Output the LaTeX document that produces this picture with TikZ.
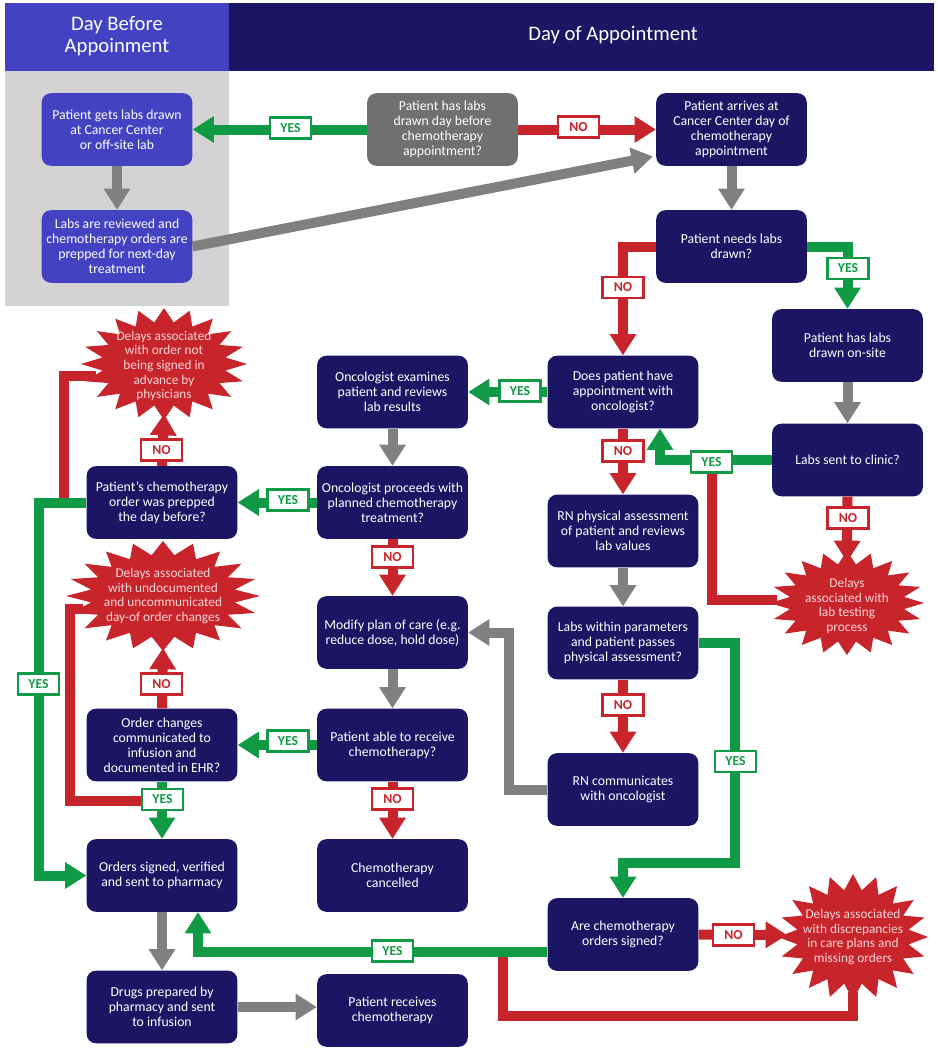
\documentclass[tikz,border=0pt]{standalone}
\usepackage{fontspec}
\setmainfont{Carlito}
\usetikzlibrary{arrows.meta,calc}

\definecolor{navy}{RGB}{28,21,100}
\definecolor{lblue}{RGB}{66,66,194}
\definecolor{panel}{RGB}{211,211,211}
\definecolor{gbox}{RGB}{112,112,112}
\definecolor{garrow}{RGB}{128,128,128}
\definecolor{cgreen}{RGB}{16,154,70}
\definecolor{cred}{RGB}{200,36,44}
\definecolor{stext}{RGB}{246,214,214}

\newcommand\starb[4]{\fill[cred] plot[samples at={0,9,...,351}, variable=\t] ({#1+#3*(1-0.25*mod(round(\t/9),2))*cos(\t)},{#2+#4*(1-0.25*mod(round(\t/9),2))*sin(\t)}) -- cycle;}

\tikzset{
 box/.style={draw=none, fill=navy, text=white, rounded corners=7pt, minimum width=113pt, minimum height=54.5pt, align=center, inner sep=0pt, font=\fontsize{10.3}{11.2}\selectfont},
 pbox/.style={box, fill=lblue},
 qbox/.style={box, fill=gbox},
 conn/.style={line width=7.5pt, -{Triangle[width=19pt,length=16pt]}},
 garr/.style={conn, draw=garrow},
 yarr/.style={conn, draw=cgreen},
 narr/.style={conn, draw=cred},
 nline/.style={line width=7.5pt, draw=cred},
 ylab/.style={draw=cgreen, line width=1.8pt, fill=white, text=cgreen, font=\fontsize{10.3}{10}\selectfont\bfseries, minimum width=31pt, minimum height=16pt, inner sep=0pt},
 nlab/.style={ylab, draw=cred, text=cred},
 startext/.style={text=stext, align=center, inner sep=0pt, font=\fontsize{10}{11}\selectfont},
 head/.style={text=white, align=center, font=\fontsize{15.5}{16}\selectfont},
}

\begin{document}
\begin{tikzpicture}[x=0.75pt,y=-0.75pt]
\useasboundingbox (0,0) rectangle (938,1050);
\fill[white] (0,0) rectangle (938,1050);
% header and panel
\fill[lblue] (5,3) rectangle (229,71);
\fill[navy] (229,3) rectangle (934,71);
\fill[panel] (5,71) rectangle (229,306);
\node[head] (h1) at (117,36) {Day Before\\Appoinment};
\node[head] (h2) at (613,35) {Day of Appointment};

% starbursts
\starb{164}{364}{83}{56}
\starb{163}{596}{97}{55}
\starb{847}{603}{77}{52}
\starb{853}{937}{75}{63}
\node[startext] (s1) at (164,366) {Delays associated\\with order not\\being signed in\\advance by\\physicians};
\node[startext] (s2) at (163,596) {Delays associated\\with undocumented\\and uncommunicated\\day-of order changes};
\node[startext] (s3) at (847,606) {Delays\\associated with\\lab testing\\process};
\node[startext] (s4) at (853,937) {Delays associated\\with discrepancies\\in care plans and\\missing orders};

% boxes
\node[pbox] (b1) at (117,129.5) {Patient gets labs drawn\\at Cancer Center\\or off-site lab};
\node[pbox] (b2) at (117,246.5) {Labs are reviewed and\\chemotherapy orders are\\prepped for next-day\\treatment};
\node[qbox] (q0) at (442.5,129.5) {Patient has labs\\drawn day before\\chemotherapy\\appointment?};
\node[box] (arr) at (731.5,129.5) {Patient arrives at\\Cancer Center day of\\chemotherapy\\appointment};
\node[box] (needs) at (731.5,246.5) {Patient needs labs\\drawn?};
\node[box] (onsite) at (847.5,345.5) {Patient has labs\\drawn on-site};
\node[box] (sent) at (847.5,460) {Labs sent to clinic?};
\node[box] (appt) at (623,392) {Does patient have\\appointment with\\oncologist?};
\node[box] (rnassess) at (623,531) {RN physical assessment\\of patient and reviews\\lab values};
\node[box] (within) at (623,643) {Labs within parameters\\and patient passes\\physical assessment?};
\node[box] (rncomm) at (623,789.5) {RN communicates\\with oncologist};
\node[box] (signed) at (623,934.5) {Are chemotherapy\\orders signed?};
\node[box] (exam) at (392.5,392) {Oncologist examines\\patient and reviews\\lab results};
\node[box] (proceeds) at (392.5,502.5) {Oncologist proceeds with\\planned chemotherapy\\treatment?};
\node[box] (modify) at (392.5,632.5) {Modify plan of care (e.g.\\reduce dose, hold dose)};
\node[box] (able) at (392.5,745) {Patient able to receive\\chemotherapy?};
\node[box] (cancelled) at (392.5,875.5) {Chemotherapy\\cancelled};
\node[box] (receives) at (392.5,1010.5) {Patient receives\\chemotherapy};
\node[box] (prepped) at (162,502.5) {Patient’s chemotherapy\\order was prepped\\the day before?};
\node[box] (ehr) at (162,745) {Order changes\\communicated to\\infusion and\\documented in EHR?};
\node[box] (orders) at (162,875.5) {Orders signed, verified\\and sent to pharmacy};
\node[box] (drugs) at (162,1007) {Drugs prepared by\\pharmacy and sent\\to infusion};

% red feedback lines (no arrowheads)
\draw[nline] ($(s3.center)+(-70,-6)$) -| ($(sent.west)+(-60,0)$);
\draw[nline] ($(s1.center)+(-68,10)$) -| ($(prepped.west)+(-22,0)$);
\draw[nline] ($(s2.center)+(-80,13)$) -| ($(ehr.south)+(-92,19)$) -- ($(ehr.south)+(-5,19)$);
\draw[nline] ($(signed.west)+(-44,17)$) |- ($(s4.center)+(0,79)$) -- ($(s4.center)+(0,55)$);

% connectors
\draw[yarr] (q0.west) -- (b1.east);
\draw[narr] (q0.east) -- (arr.west);
\draw[garr] (b1.south) -- (b2.north);
\draw[garr] (b2.east) -- ($(arr.west)+(-3,27)$);
\draw[garr] (arr.south) -- (needs.north);
\draw[narr] (needs.west) -| (appt.north);
\draw[yarr] (needs.east) -| (onsite.north);
\draw[garr] (onsite.south) -- (sent.north);
\draw[yarr] (sent.west) -| ($(appt.south)+(37,0)$);
\draw[narr] (sent.south) -- ($(s3.center)+(0,-44)$);
\draw[yarr] (appt.west) -- (exam.east);
\draw[narr] (appt.south) -- (rnassess.north);
\draw[garr] (rnassess.south) -- (within.north);
\draw[narr] (within.south) -- (rncomm.north);
\coordinate (g1) at (735,863);
\draw[yarr] (within.east) -| (g1) -| (signed.north);
\draw[garr] (rncomm.west) -| ($(modify.east)+(41,0)$) -- (modify.east);
\draw[garr] (exam.south) -- (proceeds.north);
\draw[yarr] (proceeds.west) -- (prepped.east);
\draw[narr] (proceeds.south) -- (modify.north);
\draw[garr] (modify.south) -- (able.north);
\draw[yarr] (able.west) -- (ehr.east);
\draw[narr] (able.south) -- (cancelled.north);
\draw[narr] (prepped.north) -- ($(s1.center)+(0,48)$);
\draw[yarr] (prepped.west) -| ($(orders.west)+(-47,0)$) -- (orders.west);
\draw[narr] (ehr.north) -- ($(s2.center)+(0,52)$);
\draw[yarr] (ehr.south) -- (orders.north);
\draw[garr] (orders.south) -- (drugs.north);
\draw[garr] (drugs.east) -- (drugs.east -| receives.west);
\draw[yarr] ($(signed.west)+(0,17)$) -| ($(orders.south)+(36,0)$);
\draw[narr] (signed.east) -- ($(s4.center)+(-66,-2)$);

% labels
\node[ylab] (l1) at (290.5,128) {YES};
\node[nlab] (l2) at (578.5,127) {NO};
\node[nlab] (l3) at (623,287.5) {NO};
\node[ylab] (l4) at (848,268.5) {YES};
\node[ylab] (l5) at (520,391) {YES};
\node[nlab] (l6) at (623,451) {NO};
\node[ylab] (l7) at (711.5,462) {YES};
\node[nlab] (l8) at (848,518) {NO};
\node[nlab] (l9) at (623,705) {NO};
\node[ylab] (l10) at (735.5,761.5) {YES};
\node[nlab] (l11) at (733.5,935) {NO};
\node[ylab] (l12) at (288,500) {YES};
\node[nlab] (l13) at (392.5,557) {NO};
\node[nlab] (l14) at (161.5,450) {NO};
\node[ylab] (l15) at (38.5,684) {YES};
\node[nlab] (l16) at (161.5,684) {NO};
\node[ylab] (l17) at (288,741) {YES};
\node[ylab] (l18) at (162.5,799.5) {YES};
\node[nlab] (l19) at (392.5,799) {NO};
\node[ylab] (l20) at (392.5,951) {YES};
\end{tikzpicture}
\end{document}
